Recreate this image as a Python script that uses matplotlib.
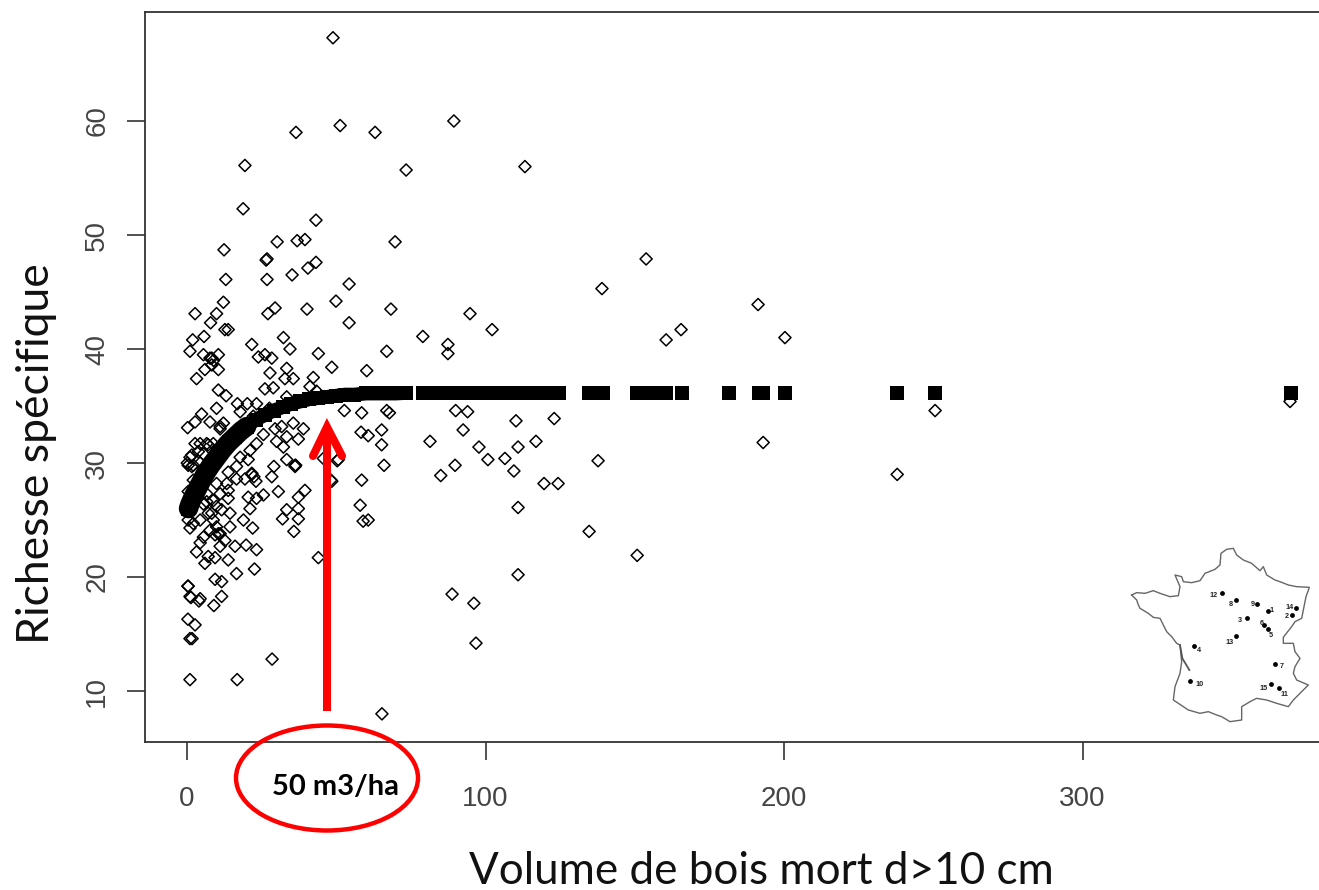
import matplotlib
matplotlib.use('Agg')
import matplotlib.pyplot as plt
from matplotlib.patches import Ellipse

# plots (volume, richness)
vol = [48.9,51.3,36.5,63,89.4,19.4,73.4,113.2,18.8,43.2,12.4,30.2,36.9,39.5,69.7,26.5,26.8,13,26.8,35.2,40.5,43.2,
       54.3,49.9,12.2,2.7,27.1,29.5,40.2,68.3,54.3,9.9,7.9,12.7,13.8,5.7,1.9,32.3,21.7,34.5,44,66.9,1,5.5,10.5,7.7,
       8.3,10.5,6,3.2,48.5,60.2,27.8,33.4,32.8,35.6,42.3,41.2,43.4,26.1,28.9,33.4,23.9,26.1,28.4,
       10.5,13.1,16.9,17.8,20.2,23.3,9.9,4.9,2.7,0.2,7.7,11.1,12.2,4.4,2.7,6.6,8.8,1,1.6,0.4,4.4,0.4,13.8,13.8,8.8,
       5.5,20.5,25.6,23.3,21.1,30.6,39.5,37.3,37.3,33.4,32,37.3,35.8,18.9,22,14.4,9.9,8.8,5.5,4.4,3.2,11.1,16.1,19.8,
       23.3,6,9.4,13.8,16.6,22.6,44,9.4,11.6,0.4,11.6,4.4,1,27.6,22.2,35.6,39,30,32.3,33.4,37.3,20.5,33.4,36.2,36.4,
       29.1,28.4,21.7,23.1,19.4,16.6,13.8,48.5,58.5,58,60.7,65.2,65.2,66,58.3,60.7,52.7,58.5,66.9,67.8,50.7,45.7,
       2.1,9.9,6.6,2.1,1,7.1,11.6,14.4,9.4,12.7,7.1,11.1,
       28.5,16.8,1,65.3,0.3,1.3,4,0.3,2.7,1,1.7,9,
       79,87.4,87.4,94.8,102.2,139,153.8,160.5,165.5,191.3,200.3,193,250.6,237.9,369.5,81.4,90,94,92.5,85,89.8,97.8,
       100.8,106.5,109.5,110.2,110.9,116.9,119.6,124.3,123,110.9,137.7,134.7,150.8,110.9,88.8,96.1,96.8,59,50.3,48.2,
       0.1,1.6,5.5,7.1,3.8,2.1,6.6,8.3,4.4,0.4,9.9,11.1,13.3,16.6,17.8,21.1,23.3,25.6,29.5,31.7,
       7.7,10.5,8.3,11.1,21.7,22.4,36.2,8.9]
richness = [67.3,59.6,59,59,60,56.1,55.7,56,52.3,51.3,48.7,49.4,49.5,49.6,49.4,47.8,47.9,46.1,46.1,46.5,47.1,47.6,
            45.7,44.2,44.1,43.1,43.1,43.6,43.5,43.5,42.3,43.1,42.3,41.7,41.7,41.1,40.8,41,40.4,40,39.6,39.8,39.8,39.5,39.5,39.2,
            38.6,38.2,38.2,37.4,38.4,38.1,37.9,38.3,37.4,37.4,37.5,36.7,36.3,36.5,36.6,35.8,39.3,39.5,39.2,
            36.4,35.9,35.2,34.5,35.2,35.2,34.8,34.3,33.6,33.1,33.6,33.2,33.5,31.7,31.7,31.7,31.7,30.5,29.7,29.8,30,27.5,27.6,26.9,26.7,
            26.4,27,27.2,26.9,26,27.5,27.6,27,26,25.9,25.1,25.1,24,25,24.3,24.4,24.4,25,23.5,23,22.2,22.7,22.7,22.8,
            22.4,21.2,21.7,21.5,20.3,20.7,21.7,19.8,19.6,19.2,18.3,18.1,18.3,34.8,34.1,33.5,33,31.9,31.4,32.3,32.1,30.3,30.3,29.7,29.8,
            29.7,28.8,29.1,28.4,28.6,28.6,29.2,28.4,28.5,26.3,25,32.9,31.6,29.8,32.7,32.4,34.6,34.4,34.6,34.4,30.3,30.4,
            28.5,28.2,27.3,24.7,24.3,25.6,25.9,25.6,23.7,23.2,21.8,23.8,
            12.8,11,11,8,19.2,18.2,17.9,16.3,15.8,14.6,14.6,17.5,
            41.1,40.4,39.6,43.1,41.7,45.3,47.9,40.8,41.7,43.9,41,31.8,34.6,29,35.4,31.9,34.6,34.5,32.9,28.9,29.8,31.4,
            30.3,30.4,29.3,33.7,31.4,31.9,28.2,28.2,33.9,26.1,30.2,24,21.9,20.2,18.5,17.7,14.2,24.9,30.2,28.5,
            30,30.7,30.8,31.6,31,29.8,26.6,25.6,25,25,26.2,27.3,28.2,29.7,30.5,31.1,31.7,32.5,33,33.2,
            24.1,23.8,39.2,33,29,28.8,29.8,39.0]

# fitted curve, one value per plot volume
fit_vol = [0.5,1,2,3,4,5,6,7,8,10,12,14,16,18,20,23,26,29,32,35,38,41,44,47,50,53,56,60,64,68,70,73.5,
           79.2,82,85,88,91,94,97,100,103,106,109,112,115,118,121,124.5,
           134.5,137,139.2,150.9,153.4,155.8,158.5,160.6,165.7,181.7,191.5,192.8,200.2,237.7,250.4,369.9]
fit_rich = [26,26.4,27,27.5,28,28.5,29,29.4,29.8,30.5,31.2,31.8,32.3,32.8,33.2,33.8,34.2,34.6,34.9,35.2,35.4,35.6,
            35.7,35.8,35.9,36,36,36.1,36.1,36.1,36.1,36.15,
            36.15,36.15,36.15,36.15,36.15,36.15,36.15,36.15,36.15,36.15,36.15,36.15,36.15,36.15,36.15,36.15,
            36.15,36.15,36.15,36.15,36.15,36.15,36.15,36.15,36.15,36.15,36.15,36.15,36.15,36.15,36.15,36.15]

x_ticks = [0, 100, 200, 300]
y_ticks = [10, 20, 30, 40, 50, 60]

# inset map, in its own picture units
map_x = [35,50,75,100,120,135,150,175,180,165,185,190,215,240,255,285,300,303,320,340,350,370,395,420,430,440,465,480,
         505,530,568,558,550,545,525,515,503,490,490,520,525,540,525,520,530,565,550,540,520,505,470,440,410,390,365,
         365,330,305,290,265,240,205,160,165,180,185,180,170,155,140,130,120,100,85,60,55,50,35]
map_y = [195,188,190,182,190,195,200,197,170,135,140,155,158,152,130,118,105,70,58,55,75,90,100,122,110,135,150,155,
         165,170,172,200,240,265,275,290,305,322,340,340,365,385,410,430,450,465,480,490,510,530,520,510,505,515,530,
         570,575,560,555,545,550,540,510,470,430,395,345,340,320,305,285,265,262,250,235,225,210,195]
estuary_x = [180,187,208]
estuary_y = [345,385,420]
site_x = [443,517,380,222,444,432,465,349,412,211,476,306,349,527,454]
site_y = [243,254,264,348,296,284,401,211,222,453,474,190,317,233,463]
label_x = [456,501,360,238,451,425,484,332,397,238,492,282,330,510,432]
label_y = [243,260,272,363,316,280,408,224,224,464,494,197,336,233,477]

W, H = 1319, 890
fig = plt.figure(figsize=(W / 100, H / 100), dpi=100)
ax = fig.add_axes([145 / W, (H - 742) / H, (W - 145) / W, 730 / H])

ax.scatter(vol, richness, s=38, marker='D', facecolors='none', edgecolors='black', linewidths=1.1)
ax.scatter(fit_vol, fit_rich, s=88, marker='s', color='black', linewidths=0)
# the squares overlap into a thick band where the plots are dense
ax.plot(fit_vol[:15], fit_rich[:15], color='black', lw=14, solid_capstyle='round')
ax.plot(fit_vol[14:32], fit_rich[14:32], color='black', lw=10, solid_capstyle='butt')

ax.set_xlim(-14.07, 379.2)
ax.set_ylim(5.53, 69.56)
ax.spines['right'].set_visible(False)
for s in ['left', 'bottom', 'top']:
    ax.spines[s].set_color('#333333')
    ax.spines[s].set_linewidth(1.3)

tick_font = ['Liberation Sans Narrow', 'Liberation Sans']
ax.set_xticks(x_ticks)
ax.set_yticks(y_ticks)
ax.tick_params(axis='x', length=13, width=1.2, color='#333333', pad=19, labelsize=20, labelcolor='#444444')
ax.tick_params(axis='y', length=13, width=1.2, color='#333333', pad=12, labelsize=20, labelcolor='#444444')
for t in ax.get_xticklabels():
    t.set_family(tick_font)
for t in ax.get_yticklabels():
    t.set_family(tick_font)
    t.set_rotation(90)
    t.set_verticalalignment('center')

# overlay in pixels for the slide annotations
over = fig.add_axes([0, 0, 1, 1])
over.set_xlim(0, W)
over.set_ylim(H, 0)
over.axis('off')
red = '#ff0000'
over.plot([327, 327], [711, 428], color=red, lw=5.8, solid_capstyle='butt')
over.plot([313, 327, 342], [456, 427, 456], color=red, lw=5.8, solid_capstyle='round', solid_joinstyle='miter')
over.add_patch(Ellipse((327, 778), 182, 105, fill=False, edgecolor=red, lw=3.2))
over.text(335, 787, '50 m3/ha', fontsize=21, fontweight='bold', family='Lato', ha='center', va='center', color='black')
over.text(761, 872, 'Volume de bois mort d>10 cm', fontsize=31.7, family='Lato', ha='center', va='center', color='#111111')
over.text(37, 454, 'Richesse spécifique', fontsize=32, family='Lato', rotation=90, ha='center', va='center', color='#111111')

# map of France with the sites
m = fig.add_axes([1120 / W, (H - 730) / H, 199 / W, 200 / H])
m.set_xlim(0, 597)
m.set_ylim(600, 0)
m.axis('off')
m.plot(map_x, map_y, color='#666666', lw=1.0)
m.plot(estuary_x, estuary_y, color='#555555', lw=1.3)
m.scatter(site_x, site_y, s=12, color='black', linewidths=0)
for i in range(len(site_x)):
    m.text(label_x[i], label_y[i], str(i + 1), fontsize=5.2, fontweight='bold', family='Liberation Sans',
           ha='center', va='center', color='#222222')

fig.savefig('out.png', dpi=100)
